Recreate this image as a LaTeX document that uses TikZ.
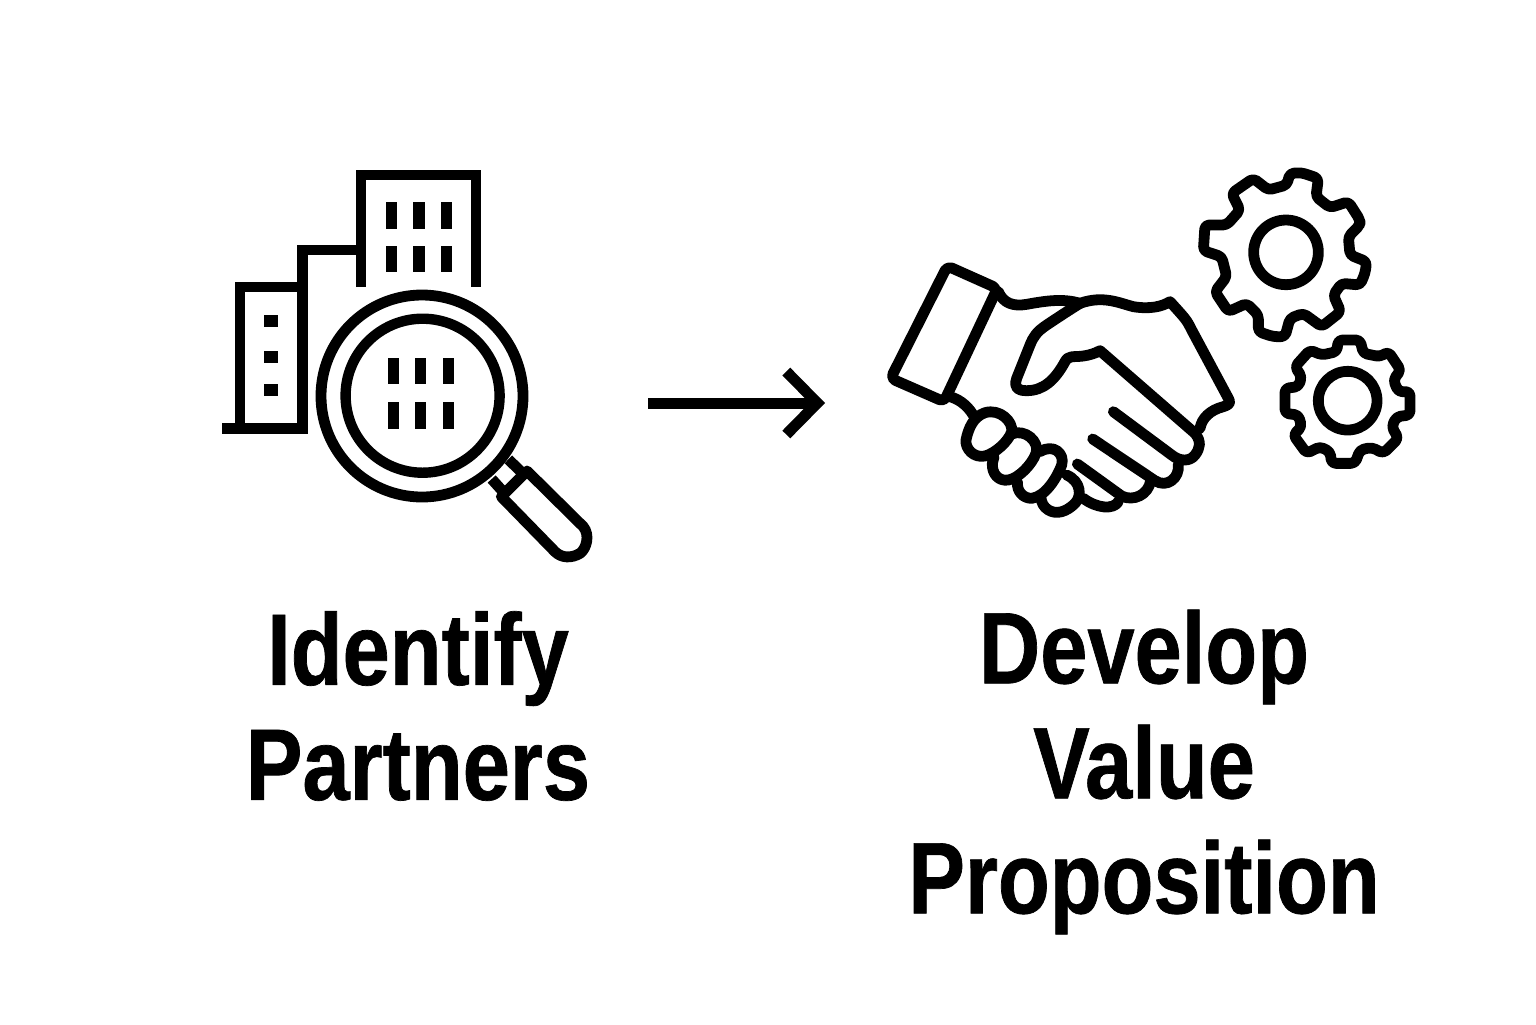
\documentclass[tikz,border=0pt]{standalone}
\usepackage{fontspec}
\usetikzlibrary{arrows.meta}
\setmainfont{Liberation Sans}[BoldFeatures={FakeStretch=0.835,FakeBold=0.7}]
\tikzset{
  icon/.style={draw=black,line width=5.3pt,line join=miter,fill=none},
  thin icon/.style={draw=black,line width=5.4pt,line join=round,line cap=round,fill=none},
  win/.style={fill=black,draw=none},
  caption/.style={font=\fontsize{50.8}{57.5}\selectfont\bfseries,align=center,inner sep=0pt,text=black},
  flow/.style={draw=black,line width=5.5pt,-{Straight Barb[length=15.5pt,width=31.5pt,line width=5.5pt]}}
}
\begin{document}
\begin{tikzpicture}[x=0.5pt,y=-0.5pt]
\useasboundingbox (0,0) rectangle (1536,1024);
\fill[white] (0,0) rectangle (1536,1024);
% buildings
\draw[icon,line cap=butt] (361,287) -- (361,175) -- (476,175) -- (476,287);
\draw[icon,line cap=butt] (361,250) -- (302.5,250) -- (302.5,434);
\draw[icon,line cap=butt] (302.5,287) -- (240,287) -- (240,428.5);
\draw[icon,line cap=butt] (222,428.5) -- (308,428.5);
\foreach \xa/\xb in {386/397,413/425,441/452}{
  \fill[win] (\xa,202) rectangle (\xb,229);
  \fill[win] (\xa,246) rectangle (\xb,272);
}
\foreach \ya/\yb in {315/327,351/363,384/396}{\fill[win] (264,\ya) rectangle (278,\yb);}
% magnifier
\draw[icon,line width=5.4pt] (422,396) circle[radius=101];
\draw[icon,line width=5.2pt] (422.6,395.7) circle[radius=77];
\foreach \xa/\xb in {388/399,415/426,443/454}{
  \fill[win] (\xa,358) rectangle (\xb,384);
  \fill[win] (\xa,402) rectangle (\xb,429);
}
\begin{scope}[shift={(210,160)},x=0.16667pt,y=-0.16667pt]
\draw[thin icon,line cap=butt] (895,898) -- (935,937);
\draw[thin icon,line cap=butt] (845,957) -- (882,998);
\draw[thin icon] (874,1010) -- (951,933) -- (1120,1100)
  .. controls (1140,1125) and (1130,1165) .. (1110,1180)
  .. controls (1085,1195) and (1055,1195) .. (1035,1175) -- cycle;
\end{scope}
% arrow
\coordinate (arrowstart) at (648,403);
\coordinate (arrowend) at (825,403);
\draw[flow] (arrowstart) -- (arrowend);
% handshake
\begin{scope}[shift={(870,240)},x=0.16667pt,y=-0.16667pt]
\draw[thin icon,rounded corners=2.5pt] (232,78) -- (382,145) -- (222,485) -- (62,415) -- cycle;
\draw[thin icon] (385,155) .. controls (400,190) and (430,200) .. (470,193)
  .. controls (530,182) and (580,175) .. (630,190);
\draw[thin icon] (630,190) .. controls (700,165) and (750,190) .. (790,200)
  .. controls (840,208) and (875,200) .. (900,185)
  .. controls (950,240) and (950,240) .. (965,270)
  -- (1075,475) .. controls (1085,490) and (1075,495) .. (1060,500)
  .. controls (1020,510) and (995,535) .. (990,565);
\draw[thin icon] (630,190) .. controls (590,215) and (560,235) .. (530,255)
  .. controls (500,275) and (490,290) .. (480,315)
  -- (440,415) .. controls (430,445) and (445,452) .. (470,452)
  .. controls (520,452) and (555,420) .. (585,365)
  .. controls (595,345) and (610,352) .. (640,348)
  .. controls (660,345) and (675,340) .. (690,332)
  -- (975,580) .. controls (995,605) and (990,625) .. (975,645)
  .. controls (960,665) and (930,665) .. (905,645)
  -- (730,515);
\draw[thin icon] (925,672) .. controls (930,715) and (890,745) .. (855,722) -- (668,597);
\draw[thin icon] (622,672) -- (755,768) .. controls (790,785) and (835,765) .. (842,722);
\draw[thin icon] (640,775) .. controls (680,805) and (730,810) .. (745,785);
\draw[thin icon] (240,470) .. controls (275,480) and (300,505) .. (315,535);
% finger blobs
\draw[thin icon] (345,518) .. controls (390,505) and (430,545) .. (425,575)
  .. controls (415,605) and (375,640) .. (345,648)
  .. controls (310,655) and (285,625) .. (288,600)
  .. controls (295,565) and (310,530) .. (345,518) -- cycle;
\draw[thin icon] (425,582) .. controls (465,565) and (510,605) .. (498,640)
  .. controls (485,675) and (445,715) .. (415,720)
  .. controls (385,725) and (365,700) .. (367,670) -- (372,650);
\draw[thin icon] (510,635) .. controls (550,610) and (585,640) .. (575,675)
  .. controls (560,715) and (525,770) .. (485,775)
  .. controls (460,775) and (440,755) .. (442,725);
\draw[thin icon] (590,705) .. controls (635,725) and (635,770) .. (615,790)
  .. controls (590,815) and (560,825) .. (535,810)
  .. controls (520,800) and (515,790) .. (512,770);
\end{scope}
% gears
\begin{scope}[shift={(1190,160)},x=0.16667pt,y=-0.16667pt]
\draw[thin icon,rounded corners=2pt] (290,75) -- (300,40) -- (335,38) -- (385,55) -- (378,110) -- (420,143) -- (475,125) -- (510,180) -- (510,195) -- (475,230) -- (480,285) -- (530,305) -- (525,340) -- (510,375) -- (455,370) -- (430,405) -- (452,455) -- (395,500) -- (340,460) -- (300,475) -- (285,530) -- (250,530) -- (205,515) -- (205,465) -- (170,430) -- (115,455) -- (75,395) -- (110,350) -- (95,290) -- (40,272) -- (45,195) -- (110,195) -- (150,150) -- (125,100) -- (190,55) -- (235,90) -- cycle;
\draw[thin icon] (288,277) circle[radius=97];
\draw[thin icon,rounded corners=2pt] (440,575) -- (445,540) -- (510,540) -- (520,580) -- (570,590) -- (595,575) -- (632,630) -- (610,660) -- (625,695) -- (660,695) -- (660,765) -- (620,770) -- (605,800) -- (625,835) -- (580,880) -- (545,862) -- (510,870) -- (495,910) -- (425,910) -- (420,875) -- (390,860) -- (350,880) -- (310,825) -- (335,800) -- (325,765) -- (285,760) -- (285,685) -- (325,680) -- (335,650) -- (315,620) -- (360,570) -- (395,585) -- cycle;
\draw[thin icon] (473,722) circle[radius=88];
\end{scope}
% captions
\node[caption] (identify) at (418,706) {Identify\\Partners};
\node[caption] (develop) at (1144,772) {Develop\\Value\\Proposition};
\end{tikzpicture}
\end{document}
